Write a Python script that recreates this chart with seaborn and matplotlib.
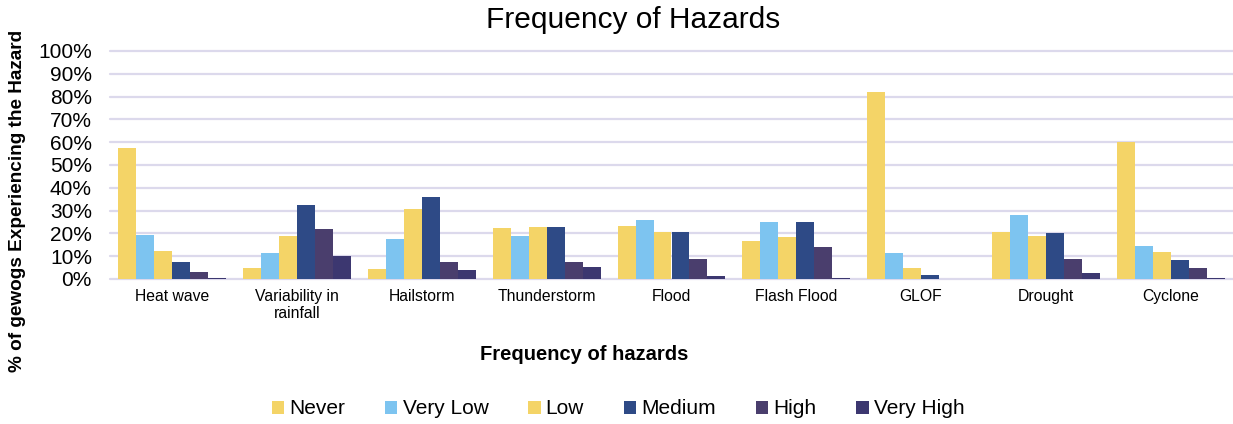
import matplotlib
matplotlib.use("Agg")
import matplotlib.pyplot as plt
import seaborn as sns
import pandas as pd
from matplotlib.patches import Rectangle

hazards = ["Heat wave", "Variability in\nrainfall", "Hailstorm", "Thunderstorm", "Flood",
           "Flash Flood", "GLOF", "Drought", "Cyclone"]
levels = ["Never", "Very Low", "Low", "Medium", "High", "Very High"]

never     = [57.5, 4.8, 4.4, 22.4, 23.2, 16.7, 82.0, 20.6, 60.0]
very_low  = [19.3, 11.4, 17.5, 19.0, 25.9, 25.0, 11.4, 28.0, 14.5]
low       = [12.3, 18.9, 30.7, 22.8, 20.6, 18.4, 4.8, 19.0, 11.8]
medium    = [7.5, 32.5, 36.0, 22.8, 20.6, 25.0, 1.8, 20.2, 8.3]
high      = [3.1, 21.9, 7.5, 7.5, 8.8, 14.0, 0.0, 8.8, 4.8]
very_high = [0.4, 10.1, 4.0, 5.3, 1.3, 0.4, 0.0, 2.6, 0.4]

series = [never, very_low, low, medium, high, very_high]
colors = ["#F4D467", "#7DC4F0", "#F4D467", "#2E4A86", "#4A3E6D", "#3C3770"]

rows = []
for lvl, vals in zip(levels, series):
    for h, v in zip(hazards, vals):
        rows.append({"Hazard": h, "Level": lvl, "Value": v})
df = pd.DataFrame(rows)

sns.set_style("white")
plt.rcParams["font.family"] = ["Liberation Sans", "DejaVu Sans"]
plt.rcParams["text.color"] = "black"
plt.rcParams["xtick.color"] = "black"
plt.rcParams["ytick.color"] = "black"

fig = plt.figure(figsize=(12.33, 4.24), dpi=100)
ax = fig.add_axes([110/1233, 1 - 279/424, (1233 - 110)/1233, (279 - 51)/424])

sns.barplot(data=df, x="Hazard", y="Value", hue="Level", order=hazards, hue_order=levels,
            palette=dict(zip(levels, colors)), width=0.865, gap=0, dodge=True, saturation=1,
            errorbar=None, legend=False, ax=ax, linewidth=0, zorder=3)

ax.set_xlim(-0.5, 8.5)
ax.set_ylim(0, 100)
ax.set_yticks(range(0, 101, 10))
ax.set_yticklabels([f"{t}%" for t in range(0, 101, 10)], fontsize=15)
ax.tick_params(axis="y", length=0, pad=13, colors="black")
ax.tick_params(axis="x", length=0, pad=7, labelsize=11.3, colors="black")
for lab in ax.get_xticklabels():
    lab.set_multialignment("center")
ax.grid(axis="y", color="#DCD9EC", linewidth=1.6, zorder=0)
for gl in ax.get_ygridlines():
    gl.set_clip_on(False)
for s in ax.spines.values():
    s.set_visible(False)
ax.set_xlabel("")
ax.set_ylabel("")

fig.text(633/1233, 1 - 20/424, "Frequency of Hazards", ha="center", va="center",
         fontsize=21.5, color="black")
fig.text(584/1233, 1 - 354/424, "Frequency of hazards", ha="center", va="center",
         fontsize=14.5, fontweight="bold", color="black")
fig.text(18/1233, 1 - 201/424, "% of gewogs Experiencing the Hazard", ha="center", va="center",
         rotation=90, fontsize=13.7, fontweight="bold", color="black")

handles = [Rectangle((0, 0), 1, 1, facecolor=c, edgecolor="none") for c in colors]
leg = fig.legend(handles, levels, loc="center", bbox_to_anchor=(618/1233, 1 - 409/424), ncol=6,
                 frameon=False, fontsize=15, handlelength=0.6, handleheight=0.6,
                 handletextpad=0.25, columnspacing=1.9)
for t in leg.get_texts():
    t.set_color("black")

fig.savefig("out.png", dpi=100)
